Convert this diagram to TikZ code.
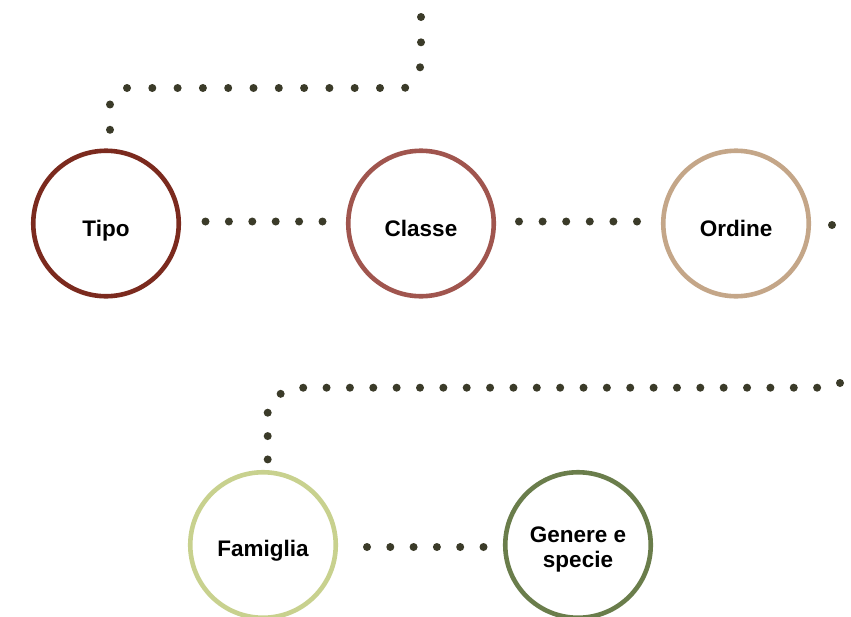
\documentclass[tikz,border=0pt]{standalone}
\usepackage{fontspec}
\setmainfont{Liberation Sans}
\usetikzlibrary{calc}
\definecolor{cTipo}{HTML}{7B2A1E}
\definecolor{cClasse}{HTML}{A0554E}
\definecolor{cOrdine}{HTML}{C4A688}
\definecolor{cFam}{HTML}{C8D18E}
\definecolor{cGen}{HTML}{6A7D4B}
\definecolor{cDot}{HTML}{3B3B29}
\begin{document}
\begin{tikzpicture}[x=1pt,y=-1pt,
  ring/.style={circle, draw=#1, line width=4.6pt, minimum size=145.5pt, inner sep=0pt, outer sep=0pt},
  lbl/.style={anchor=base, font=\bfseries\fontsize{22.5}{27}\selectfont, text=black, inner sep=0pt},
  dotline/.style={draw=cDot, line width=8pt, line cap=round, dash pattern=on 0pt off #1},
]
\useasboundingbox[fill=white] (0,0) rectangle (851,616);

% circles
\node[ring=cTipo]   (tipo)     at (106,223.5) {};
\node[ring=cClasse] (classe)   at (421,223.5) {};
\node[ring=cOrdine] (ordine)   at (736,223.5) {};
\node[ring=cFam]    (famiglia) at (263,545) {};
\node[ring=cGen]    (genere)   at (578,545) {};

% labels
\node[lbl] (tipoT)   at ($(tipo.center)+(0,12.5)$)   {Tipo};
\node[lbl] (classeT) at ($(classe.center)+(0,12.5)$) {Classe};
\node[lbl] (ordineT) at ($(ordine.center)+(0,12.5)$) {Ordine};
\node[lbl] (famT)    at ($(famiglia.center)+(0,11.5)$) {Famiglia};
\node[lbl] (genT1)   at ($(genere.center)+(0,-3)$)   {Genere e};
\node[lbl] (genT2)   at ($(genere.center)+(0,22)$)   {specie};

% free ends
\coordinate (topA)  at (421,17);
\coordinate (edgeA) at (851,225);
\coordinate (edgeB) at (840,383);

% connectors
\draw[dotline=25.3pt] (topA) -- (421,66) -- (405,88) -- (127,88) -- (110,100)
  -- ($(tipo.center)+(4,-93)$);
\draw[dotline=23.4pt] ($(tipo.center)+(99.5,-2)$) -- ($(classe.center)+(-98,-2)$);
\draw[dotline=23.6pt] ($(classe.center)+(98,-2)$) -- ($(ordine.center)+(-98.5,-2)$);
\draw[dotline=30pt] ($(ordine.center)+(96,1.5)$) -- (edgeA);
\draw[dotline=23.36pt] (edgeB) -- (817.1,387.7) -- (303.3,387.7) -- (280,394) -- (267.7,411)
  -- ($(famiglia.center)+(4.7,-85)$);
\draw[dotline=23.3pt] ($(famiglia.center)+(104,2)$) -- ($(genere.center)+(-94,2)$);
\end{tikzpicture}
\end{document}
